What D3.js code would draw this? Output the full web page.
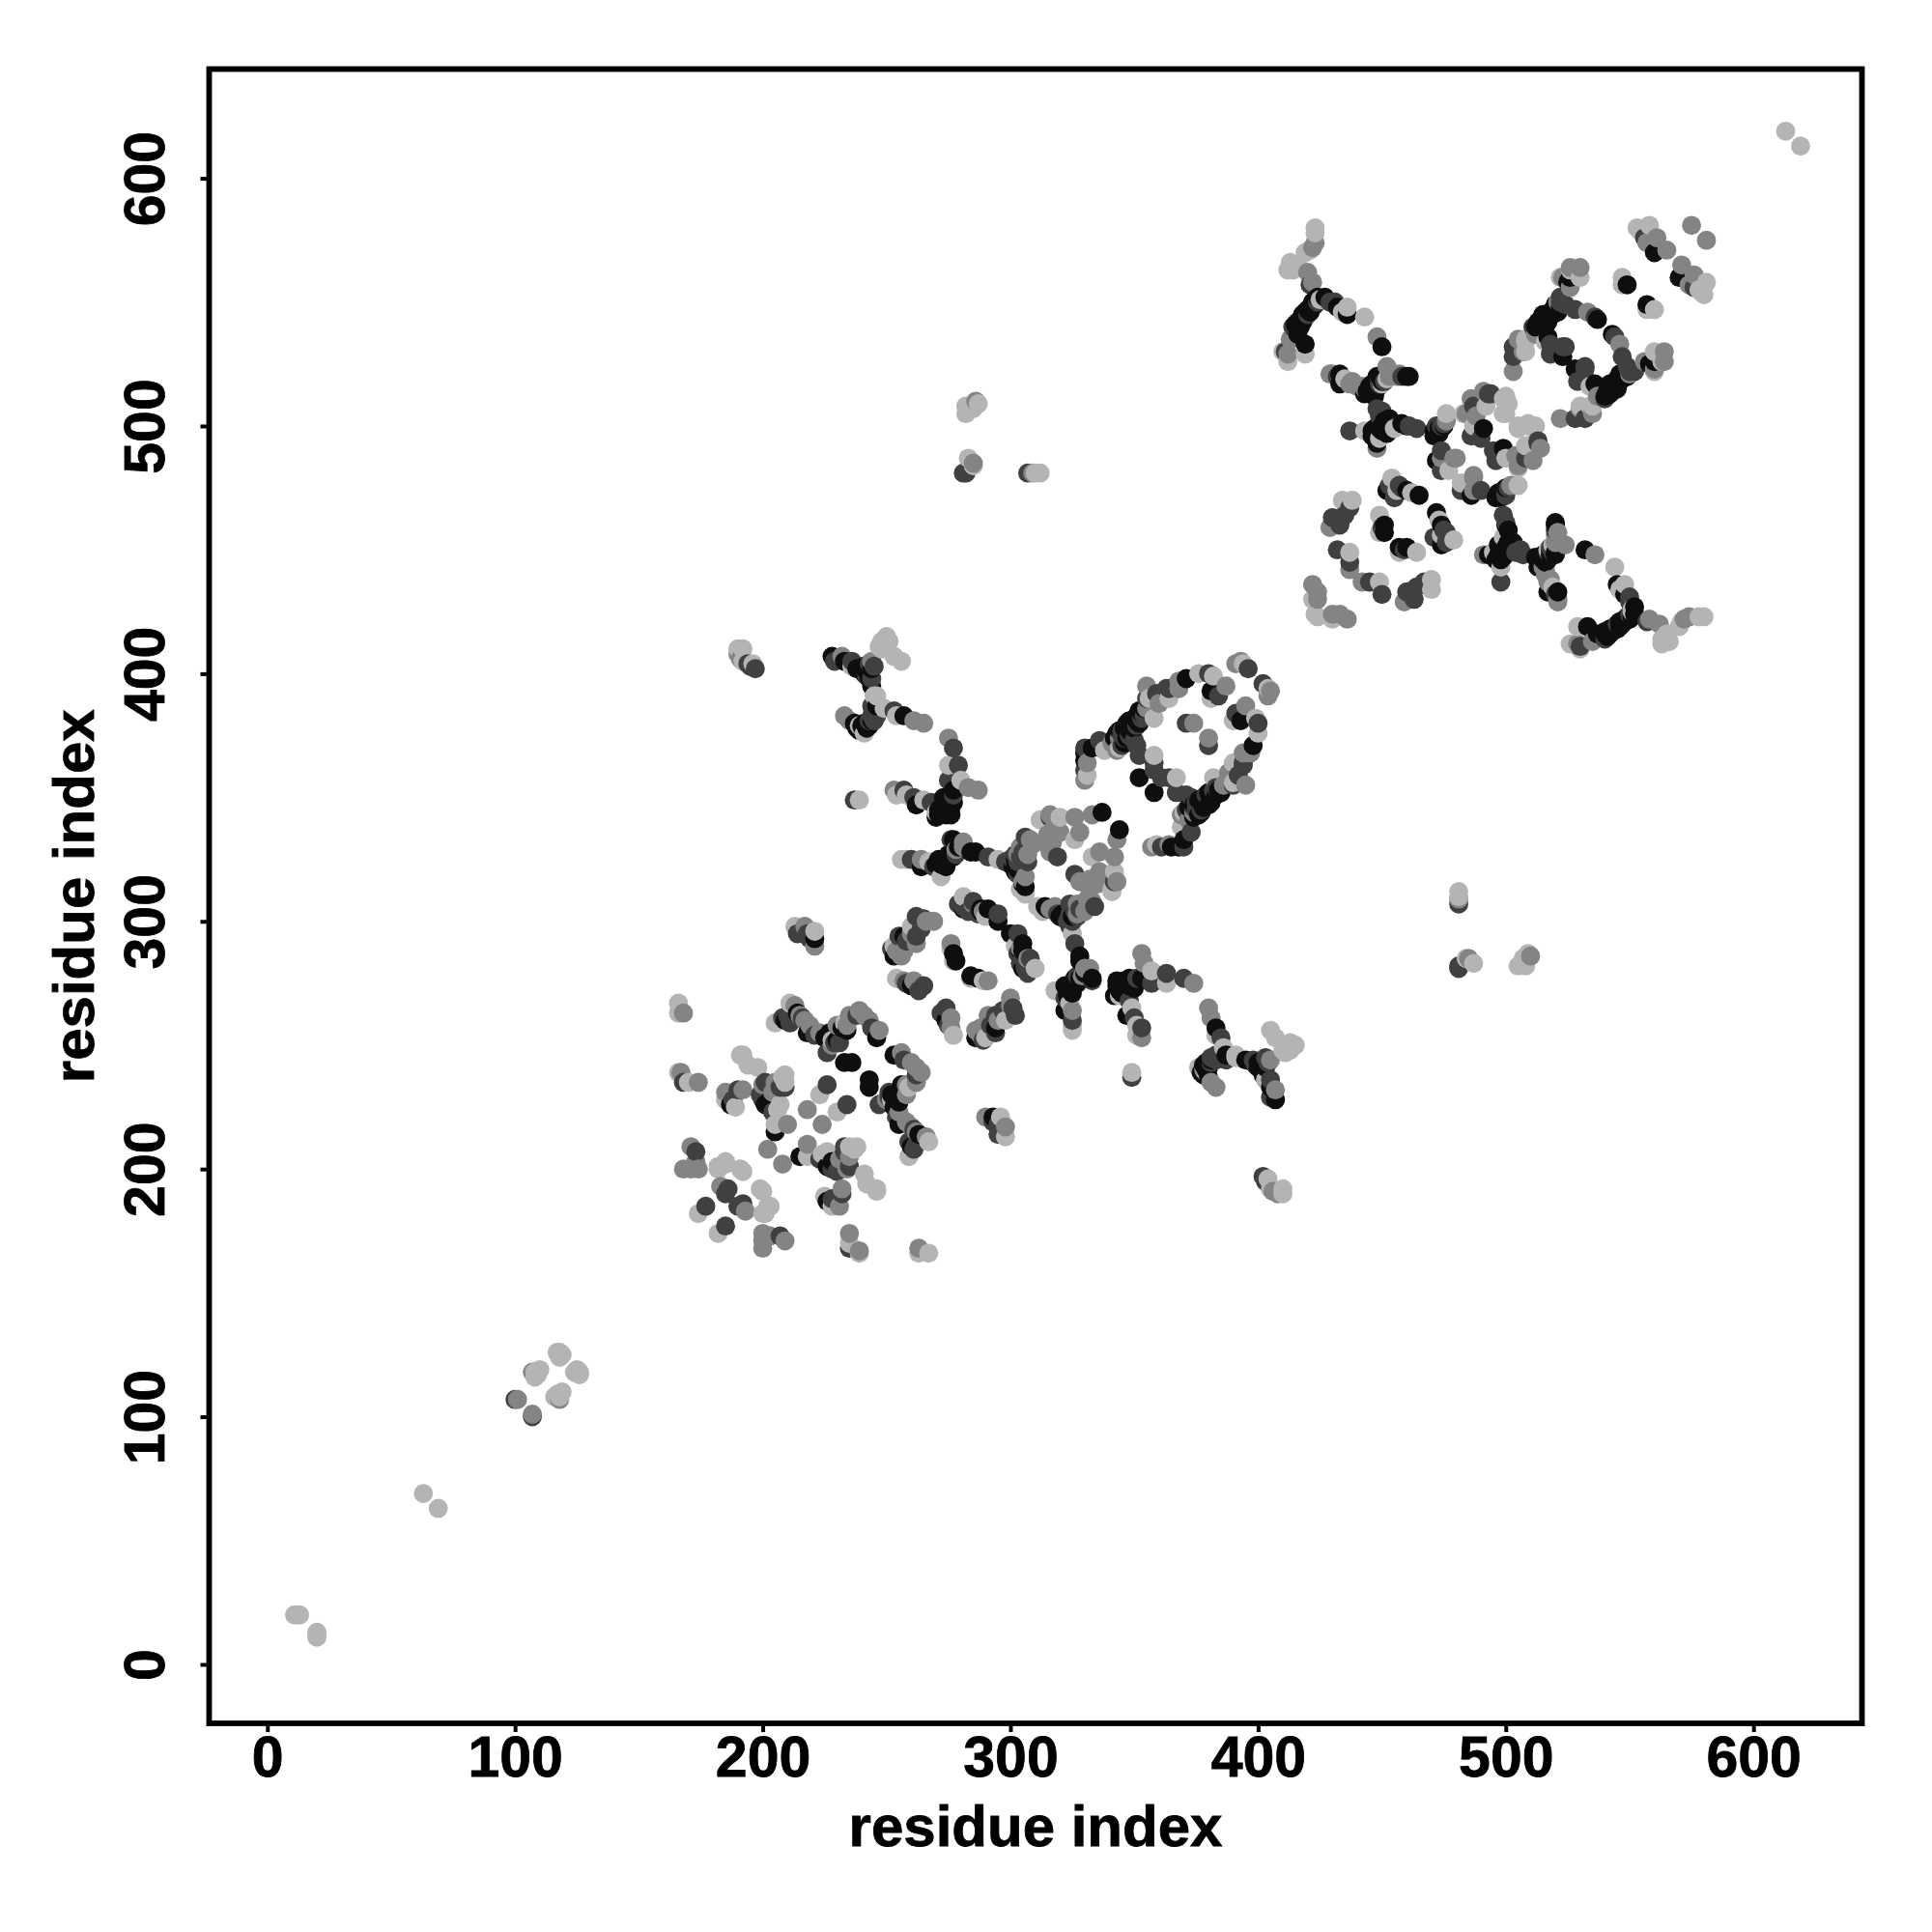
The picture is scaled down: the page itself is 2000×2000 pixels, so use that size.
<!DOCTYPE html>
<html><head><meta charset="utf-8">
<script src="https://cdn.jsdelivr.net/npm/d3@7"></script>
<style>html,body{margin:0;padding:0;background:#fff}svg{display:block}</style>
</head><body><svg id="c" width="2000" height="2000"></svg>
<script>
const axisTicks = [0,100,200,300,400,500,600];
const axisTitle = "residue index";
const xDomain = [-23.5,643.8];
const yDomain = [-23.8,644.1];
const shadeNames = ["K","D","M","L"];
const shadeColors = ["#0e0e0e","#404040","#848484","#b4b4b4"];
// contacts [residue i, residue j, shade]; the map shows each one at (i,j) and (j,i)
const contactsLocal = [
[11,20,"L"],[13,20,"L"],[12,20,"L"],[63,69,"L"],[100,107,"D"],[101,107,"M"],[107,118,"M"],[108,118,"L"],[109,117,"L"],[108,116,"L"],[110,119,"L"],[117,126,"L"],[118,126,"L"],[118,124,"L"],[119,125,"L"]
];
const contactsCluster1 = [
[166,267,"L"],[166,263,"L"],[168,263,"M"],[166,239,"L"],[167,239,"M"],[168,235,"D"],[170,235,"L"],[174,235,"M"],
[168,200,"M"],[171,200,"M"],[174,200,"M"],[173,203,"M"],[171,209,"M"],[173,207,"D"],[174,182,"L"],[177,185,"D"],
[182,200,"L"],[185,203,"L"],[191,200,"L"],[192,199,"L"],[183,193,"M"],[186,192,"D"],[185,190,"D"],[182,201,"L"],[185,202,"L"],
[191,246,"L"],[194,242,"L"],[198,241,"L"],[185,231,"M"],[185,228,"L"],[188,228,"D"],[189,225,"L"],[190,232,"D"],[192,232,"M"],[187,226,"K"],[192,246,"L"],
[199,230,"D"],[200,234,"M"],[200,228,"D"],[201,235,"D"],[201,226,"K"],[203,228,"K"],[204,223,"D"],[204,231,"M"],[205,215,"K"],[205,218,"L"],[205,235,"M"],[206,224,"L"],[207,226,"L"],[207,233,"D"],[208,237,"L"],[209,233,"D"],[209,235,"L"],[209,238,"L"],[210,218,"M"],
[202,208,"M"],[218,224,"M"],[223,230,"L"],[226,234,"D"],
[205,259,"L"],[208,261,"D"],[209,260,"K"],[210,262,"D"],[211,259,"D"],[211,267,"L"],[213,266,"M"],[214,263,"K"],[215,262,"M"],[216,261,"D"],[217,260,"M"],[218,255,"K"],[219,258,"M"],[221,254,"D"],[223,255,"M"],[225,253,"K"],[226,247,"D"],[227,255,"K"],[228,252,"L"],[228,250,"M"],[229,251,"D"],[230,252,"K"],[231,251,"D"],[230,258,"M"],[232,257,"K"],[233,259,"L"],[234,256,"K"],[234,258,"M"],[235,262,"M"],[238,262,"D"],[239,264,"M"],[241,262,"M"],[243,260,"M"],[233,243,"K"],[236,243,"K"],[244,257,"D"],[246,253,"K"],[247,256,"M"],
[213,298,"L"],[214,295,"D"],[217,298,"M"],[218,295,"D"],[219,293,"D"],[221,290,"M"],[221,293,"K"],[221,296,"L"]
];
const contactsStems = [
[252,289,"D"],[253,286,"K"],[253,290,"L"],[254,288,"M"],[255,294,"D"],[256,286,"M"],[257,288,"M"],[257,294,"K"],[258,292,"D"],[260,295,"M"],[260,298,"L"],[262,291,"M"],[262,294,"D"],[262,302,"D"],[264,297,"D"],[265,301,"D"],[266,300,"M"],[269,300,"M"],
[254,277,"L"],[257,276,"M"],[258,275,"D"],[260,274,"K"],[261,276,"M"],[263,272,"D"],[265,274,"D"],
[276,291,"M"],[276,289,"L"],[277,284,"L"],[277,287,"K"],[278,284,"K"],
[279,307,"D"],[281,310,"L"],[281,305,"K"],[281,306,"D"],[283,304,"D"],[285,308,"D"],[285,307,"M"],[285,305,"D"],[287,303,"D"],[288,305,"K"],[288,304,"K"],[289,304,"M"],[290,302,"L"],[291,305,"K"],[295,303,"D"],[295,300,"K"],
[256,325,"L"],[258,325,"L"],[260,325,"D"],[264,325,"M"],[264,322,"K"],[267,324,"L"],[269,322,"D"],[270,323,"K"],[271,325,"K"],[272,318,"L"],[272,323,"K"],[272,324,"K"],[273,325,"K"],[274,322,"K"],[274,325,"K"],[275,325,"K"],[275,327,"K"],[276,327,"K"],[276,333,"D"],[277,326,"K"],[277,328,"K"],[277,333,"K"],[278,327,"D"],[278,329,"M"],[279,330,"K"],[281,332,"M"],[281,330,"M"],[284,328,"K"],[286,328,"K"],[291,326,"D"],[295,325,"L"],
[237,349,"D"],[239,349,"L"],
[253,353,"M"],[254,351,"L"],[257,353,"D"],[258,351,"L"],[261,350,"D"],[262,347,"K"],[265,349,"L"],[268,348,"D"],[270,344,"L"],[270,342,"K"],[271,343,"K"],[271,345,"K"],[272,344,"K"],[272,346,"K"],[273,345,"K"],[273,347,"K"],[273,350,"K"],[274,343,"K"],[274,346,"K"],[274,348,"K"],[275,344,"K"],[275,346,"K"],[275,348,"K"],[276,343,"K"],[276,346,"K"],[277,348,"K"],[277,351,"D"],[277,353,"K"],[275,357,"D"],[275,363,"L"],[275,374,"M"],[277,370,"D"],[279,363,"D"],[280,357,"L"],[283,354,"M"],[287,353,"M"],
[228,407,"K"],[229,405,"D"],[232,407,"M"],[233,405,"K"],[236,405,"D"],[236,403,"L"],[238,402,"K"],[240,402,"K"],[241,403,"K"],[241,400,"K"],[242,399,"D"],[242,401,"K"],[243,402,"K"],[243,400,"K"],[243,404,"D"],[243,398,"K"],[244,402,"K"],[244,405,"M"],[244,398,"D"],[244,395,"K"],[245,403,"D"],[245,391,"L"],[246,391,"L"],[247,411,"L"],[248,413,"L"],[250,415,"L"],[251,413,"L"],[253,407,"L"],[256,405,"L"],[248,410,"L"],
[233,383,"M"],[235,381,"M"],[237,380,"K"],[238,378,"K"],[239,379,"L"],[239,377,"K"],[240,378,"M"],[240,379,"K"],[241,376,"L"],[241,380,"K"],[242,378,"K"],[242,380,"K"],[243,379,"K"],[243,381,"D"],[244,381,"K"],[244,383,"D"],[245,381,"D"],[245,383,"D"],[246,383,"D"],[244,387,"D"],[246,387,"K"],[249,386,"L"],[253,385,"D"],[254,383,"L"],[257,383,"K"],[261,381,"M"],[265,380,"M"],
[190,408,"M"],[190,410,"L"],[191,406,"M"],[192,405,"L"],[192,410,"L"],[194,404,"D"],[195,403,"D"],[196,404,"L"],[197,402,"D"]
];
const contactsRings = [
[298,324,"D"],[300,325,"D"],[300,323,"D"],[301,322,"K"],[301,325,"D"],[302,325,"K"],[302,320,"K"],[302,322,"K"],[302,327,"D"],[303,321,"K"],[303,319,"D"],[303,324,"D"],[303,327,"M"],[304,313,"L"],[304,326,"D"],[304,330,"M"],[305,315,"K"],[305,316,"M"],[305,328,"D"],[306,311,"L"],[306,314,"K"],[306,334,"D"],[306,318,"M"],[307,324,"D"],[307,327,"M"],[308,333,"M"],[309,331,"M"],[312,341,"L"],[313,341,"L"],[315,331,"M"],[315,335,"M"],[316,343,"M"],[316,342,"D"],[316,328,"M"],[317,332,"M"],[318,339,"M"],[319,326,"D"],[319,336,"M"],[320,342,"L"],[320,336,"M"],[326,342,"M"],[326,333,"L"],[328,336,"M"],[333,343,"M"],[337,344,"K"],
[330,357,"M"],[330,361,"D"],[331,359,"L"],[331,364,"M"],[330,365,"K"],[330,368,"K"],[333,370,"K"],[330,370,"D"],[336,373,"D"],[338,369,"L"],[341,372,"M"],[342,374,"K"],[343,369,"M"],[343,376,"K"],[344,370,"L"],[344,374,"M"],[344,377,"K"],[345,371,"D"],[345,375,"D"],[345,377,"D"],[346,372,"K"],[346,374,"D"],[346,378,"K"],[347,374,"K"],[347,378,"K"],[347,380,"K"],[348,375,"D"],[348,377,"K"],[348,381,"K"],[349,376,"K"],[349,379,"K"],[349,381,"K"],[350,378,"K"],[350,381,"K"],[350,373,"D"],[351,371,"D"],[351,379,"D"],[351,381,"K"],[351,382,"K"],[351,383,"K"],[352,380,"K"],[352,385,"K"],[352,367,"D"],[352,358,"K"],[353,382,"D"],[353,384,"K"],[354,383,"D"],[354,386,"K"],[355,386,"M"],[355,390,"D"],[355,395,"M"],[358,367,"L"],[358,364,"D"],[358,361,"D"],[358,382,"L"],[356,390,"L"],[359,392,"D"],[360,388,"M"],[363,394,"D"],[364,394,"D"],[364,390,"L"],[368,394,"M"],[368,397,"M"],[371,398,"K"],[371,380,"D"],[374,380,"M"],[376,400,"L"],[380,400,"D"],[382,399,"L"],[381,390,"L"],[381,393,"K"],[384,391,"D"],[387,395,"M"],[391,404,"M"],[393,405,"M"],[394,404,"L"],[396,402,"D"]
];
const contactsFar = [
[281,481,"D"],[282,481,"D"],[285,484,"L"],[283,487,"L"],[285,485,"M"],[282,505,"L"],[282,508,"L"],[284,508,"L"],[285,507,"L"],[286,510,"M"],[287,509,"L"],[307,481,"D"],[310,481,"L"],[309,481,"M"],[312,481,"L"],[613,619,"L"]
];
const contactsCluster2 = [
[422,436,"M"],[424,433,"M"],[422,430,"L"],[424,430,"M"],[423,424,"L"],[429,459,"M"],[430,463,"D"],[433,460,"D"],[434,463,"D"],[434,470,"L"],[435,464,"D"],[437,467,"D"],[438,470,"L"],
[432,450,"D"],[437,449,"L"],[437,445,"D"],[437,442,"M"],[449,464,"L"],[451,460,"K"],[451,457,"K"],[449,457,"L"],[450,459,"D"],
[454,479,"L"],[452,474,"K"],[455,471,"D"],[453,476,"D"],[456,474,"L"],[457,476,"D"],[458,475,"D"],[460,474,"K"],[462,473,"L"],[465,472,"K"],
[410,530,"L"],[411,530,"D"],[412,526,"L"],[412,529,"M"],[413,535,"M"],[412,563,"L"],[413,566,"L"],[414,563,"L"],[414,540,"D"],[415,565,"L"],[415,541,"K"],[416,542,"K"],[416,537,"K"],[416,540,"K"],[416,565,"L"],[417,540,"K"],[417,541,"K"],[417,543,"K"],[418,542,"K"],[418,543,"K"],[418,545,"K"],[419,533,"K"],[419,529,"L"],[419,544,"K"],[419,546,"K"],[419,570,"L"],[420,545,"D"],[420,547,"K"],[420,562,"M"],[421,546,"K"],[421,548,"K"],[421,557,"D"],[421,571,"L"],[422,548,"K"],[422,550,"K"],[422,558,"M"],[422,572,"M"],[423,549,"K"],[423,551,"K"],[423,574,"M"],[423,578,"L"],[423,580,"L"],[424,550,"D"],[424,552,"K"],[425,551,"L"],[426,551,"L"],[427,552,"K"],[429,550,"D"],[431,550,"D"],[432,548,"K"],[434,546,"L"],[436,545,"K"],[436,548,"L"],[443,544,"L"],[448,536,"M"],[450,532,"K"],
[429,521,"M"],[430,521,"M"],[432,520,"D"],[433,517,"K"],[433,521,"K"],[435,519,"L"],[437,517,"M"],[438,518,"M"],[440,516,"M"],[442,516,"M"],[443,515,"M"],[443,513,"K"],[444,514,"K"],[445,514,"K"],[445,516,"K"],[446,515,"K"],[446,517,"K"],[447,512,"K"],[447,515,"K"],[447,517,"K"],[448,515,"K"],[448,518,"K"],[448,520,"K"],[449,517,"D"],[449,519,"D"],[449,520,"K"],[450,517,"L"],[450,518,"K"],[451,518,"D"],[452,524,"M"],[452,519,"L"],[453,520,"M"],[456,520,"M"],[457,521,"M"],[458,520,"D"],[460,520,"K"],[461,520,"K"],
[448,507,"D"],[449,504,"D"],[450,506,"D"],[437,498,"D"],[443,498,"L"],[446,496,"K"],[446,498,"K"],[447,497,"K"],[447,499,"K"],[448,491,"M"],[449,495,"L"],[448,493,"K"],[448,497,"K"],[448,498,"K"],[449,499,"K"],[449,501,"K"],[450,498,"K"],[450,500,"K"],[451,500,"K"],[451,502,"K"],[452,497,"K"],[452,501,"K"],[453,501,"K"],[453,503,"K"],[455,499,"L"],[457,500,"L"],[458,501,"K"],[460,500,"K"],[461,500,"D"],[464,499,"D"],
[471,496,"K"],[471,498,"K"],[472,486,"K"],[472,498,"K"],[472,500,"D"],[473,499,"K"],[474,482,"D"],[474,487,"M"],[474,490,"D"],[474,499,"K"],[474,500,"D"],[473,497,"K"],[475,500,"K"],[475,501,"D"],[476,502,"M"],[476,505,"L"],[477,482,"L"],[479,487,"M"],[480,487,"M"],
[483,505,"L"],[484,505,"M"],[486,496,"D"],[486,511,"M"],[487,500,"L"],[487,508,"D"],[488,504,"M"],[490,495,"D"],[491,499,"K"],[491,514,"M"],[492,508,"L"],[493,513,"D"],[494,513,"D"],[499,505,"L"],[499,511,"L"],[500,505,"L"],[500,512,"L"],[501,509,"L"],
[503,522,"M"],[503,528,"D"],[503,532,"D"],[505,535,"M"],[507,530,"M"],[508,530,"L"],[508,534,"L"],[508,535,"L"],[511,540,"D"],[512,537,"M"],[512,540,"K"],[513,542,"K"],[514,541,"K"],[514,543,"K"],[515,543,"K"],[515,545,"K"],[516,534,"L"],[516,544,"K"],[516,543,"K"],[517,536,"K"],[517,542,"K"],[517,545,"K"],[518,529,"D"],[518,533,"D"],[518,546,"K"],[519,545,"K"],[519,547,"K"],[520,546,"K"],[520,549,"K"],[521,546,"K"],[521,548,"K"],[521,550,"M"],[522,548,"K"],[522,550,"D"],[522,552,"D"],[522,560,"L"],[523,528,"K"],[523,532,"D"],[523,560,"M"],[524,532,"D"],[524,549,"D"],[525,558,"K"],[526,556,"M"],[526,560,"K"],[526,564,"M"],[526,563,"L"],[528,547,"D"],[530,560,"L"],[530,564,"M"],[533,546,"M"],[536,544,"D"],[537,543,"K"],
[547,560,"L"],[547,557,"L"],[549,557,"K"],[553,580,"L"],[554,579,"L"],[555,578,"L"],[556,576,"D"],[557,574,"M"],[558,581,"L"],[560,570,"K"],[561,576,"M"],[565,571,"M"],[575,581,"M"]
];
const contacts = [...contactsLocal,...contactsCluster1,...contactsStems,...contactsRings,...contactsFar,...contactsCluster2];

const frame = {left:216.5,right:1927.5,top:71.5,bottom:1784};
const svg = d3.select("#c");
const x = d3.scaleLinear().domain(xDomain).range([frame.left,frame.right]);
const y = d3.scaleLinear().domain(yDomain).range([frame.bottom,frame.top]);
const shade = d3.scaleOrdinal().domain(shadeNames).range(shadeColors);
const points = contacts.flatMap(([i,j,s])=>[{x:i,y:j,s},{x:j,y:i,s}])
  .sort((a,b)=>d3.ascending(a.x,b.x)||d3.ascending(a.y,b.y));
svg.append("g").selectAll("circle").data(points).join("circle")
  .attr("cx",d=>x(d.x)).attr("cy",d=>y(d.y)).attr("r",9.9).attr("fill",d=>shade(d.s));
const font = "'Liberation Sans',Arial,sans-serif";
const gx = svg.append("g").attr("transform",`translate(0,${frame.bottom})`)
  .call(d3.axisBottom(x).tickValues(axisTicks).tickFormat(d3.format("d")).tickSize(9).tickPadding(4));
const gy = svg.append("g").attr("transform",`translate(${frame.left},0)`)
  .call(d3.axisLeft(y).tickValues(axisTicks).tickFormat(d3.format("d")).tickSize(9).tickPadding(4));
[gx,gy].forEach(g=>{g.select(".domain").remove();g.selectAll("line").attr("stroke","#000").attr("stroke-width",4);
  g.selectAll("text").attr("fill","#000").attr("font-family",font).attr("font-weight","bold").attr("font-size",59).attr("stroke","#000").attr("stroke-width",0.8);});
gx.selectAll("text").attr("dy",null).attr("y",null).attr("text-anchor","middle").attr("transform",null)
  .attr("y",1839-frame.bottom);
gy.selectAll("text").attr("dy",null).attr("x",null).attr("y",null).attr("text-anchor","middle")
  .attr("transform",`translate(${170-frame.left},0) rotate(-90)`);
svg.append("rect").attr("x",frame.left).attr("y",frame.top).attr("width",frame.right-frame.left).attr("height",frame.bottom-frame.top)
  .attr("fill","none").attr("stroke","#000").attr("stroke-width",5.8);
svg.append("text").text(axisTitle).attr("x",(frame.left+frame.right)/2).attr("y",1911).attr("text-anchor","middle")
  .attr("font-family",font).attr("font-weight","bold").attr("font-size",60).attr("fill","#000").attr("stroke","#000").attr("stroke-width",0.8);
svg.append("text").text(axisTitle).attr("transform",`translate(97,${(frame.top+frame.bottom)/2}) rotate(-90)`).attr("text-anchor","middle")
  .attr("font-family",font).attr("font-weight","bold").attr("font-size",60).attr("fill","#000").attr("stroke","#000").attr("stroke-width",0.8);
</script></body></html>
